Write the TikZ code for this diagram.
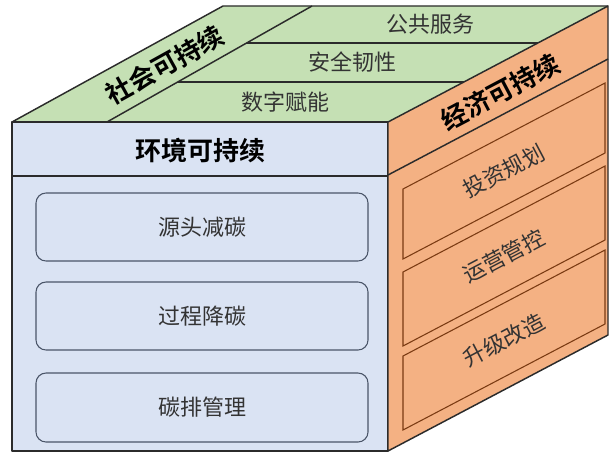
\documentclass[tikz,border=0pt]{standalone}
\usepackage{fontspec}
\newfontfamily\cjk{Noto Sans CJK SC}[BoldFont={Noto Sans CJK SC Bold}]
\definecolor{topgreen}{HTML}{C5E0B4}
\definecolor{frontblue}{HTML}{DAE3F3}
\definecolor{sideorange}{HTML}{F4B183}
\definecolor{edge}{HTML}{2B2B2B}
\definecolor{boxblue}{HTML}{4A5568}
\definecolor{boxbrown}{HTML}{7A3A12}
\definecolor{txt}{HTML}{333333}
\tikzset{
  faceline/.style={draw=edge, line width=1.1pt, line join=round},
  titletext/.style={font=\cjk\bfseries\fontsize{19.5}{20}\selectfont, text=black, inner sep=0pt},
  itemtext/.style={font=\cjk\fontsize{16.5}{17}\selectfont, text=txt, inner sep=0pt},
  frontbox/.style={draw=boxblue, line width=0.8pt, rounded corners=7.5pt, fill=frontblue},
  sidebox/.style={draw=boxbrown, line width=0.8pt, fill=sideorange},
}
\begin{document}
\begin{tikzpicture}[x=0.75pt,y=-0.75pt]
\useasboundingbox (0,0) rectangle (609,453);
% top face
\fill[topgreen] (12,122) -- (223,6) -- (608,6) -- (388,122) -- cycle;
\draw[faceline] (107,122) -- (312,6);
\draw[faceline] (177.7,82) -- (463.9,82);
\draw[faceline] (246.6,43) -- (537.8,43);
\draw[faceline] (12,122) -- (223,6) -- (608,6);
% front face
\draw[faceline, fill=frontblue] (12,122) rectangle (388,451);
\draw[faceline] (12,176) -- (388,176);
\draw[frontbox] (36,193) rectangle (368,261);
\draw[frontbox] (36,282) rectangle (368,350);
\draw[frontbox] (36,373) rectangle (368,442);
% right face
\draw[faceline, fill=sideorange] (388,122) -- (608,6) -- (608,335) -- (388,451) -- cycle;
\draw[faceline] (388,175) -- (608,59);
\draw[sidebox] (403,189) -- (605,83) -- (605,153) -- (403,259) -- cycle;
\draw[sidebox] (403,272) -- (605,166) -- (605,240) -- (403,346) -- cycle;
\draw[sidebox] (403,356) -- (605,250) -- (605,324) -- (403,430) -- cycle;
% texts
\node[titletext, rotate=29] (soc) at (165,65) {社会可持续};
\node[itemtext] (t1) at (430,24) {公共服务};
\node[itemtext] (t2) at (352,62) {安全韧性};
\node[itemtext] (t3) at (285,102) {数字赋能};
\node[titletext] (env) at (200,151) {环境可持续};
\node[itemtext] (f1) at (202,227) {源头减碳};
\node[itemtext] (f2) at (202,316) {过程降碳};
\node[itemtext] (f3) at (202,407) {碳排管理};
\node[titletext, rotate=27.8] (eco) at (500,92) {经济可持续};
\node[itemtext, rotate=27.8] (r1) at (504,171) {投资规划};
\node[itemtext, rotate=27.8] (r2) at (504,256) {运营管控};
\node[itemtext, rotate=27.8] (r3) at (504,340) {升级改造};
\end{tikzpicture}
\end{document}
